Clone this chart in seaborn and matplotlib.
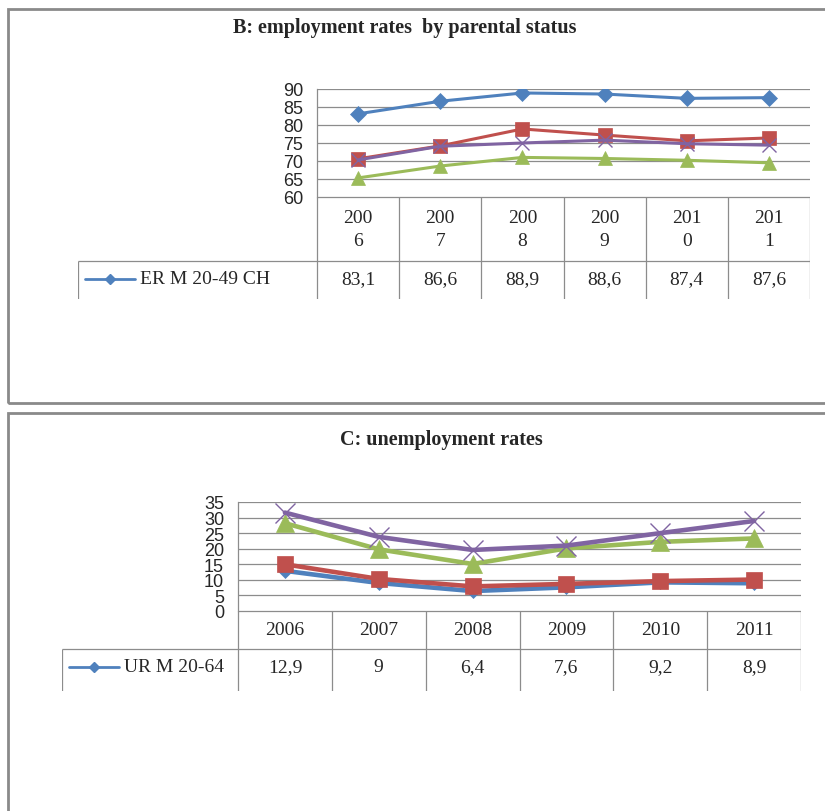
import matplotlib
matplotlib.use("Agg")
import matplotlib.pyplot as plt
import pandas as pd
import seaborn as sns

# ============================
# DATA
# ============================
years = ["2006", "2007", "2008", "2009", "2010", "2011"]

# B: employment rates by parental status (only first table row is visible)
er_names = ["ER M 20-49 CH", "ER 2", "ER 3", "ER 4"]
er_m_ch = [83.1, 86.6, 88.9, 88.6, 87.4, 87.6]
er_s2 = [70.6, 74.2, 78.9, 77.2, 75.6, 76.4]
er_s3 = [65.3, 68.6, 71.0, 70.7, 70.2, 69.5]
er_s4 = [70.3, 74.1, 75.0, 75.8, 74.8, 74.4]
er_ticks = [60, 65, 70, 75, 80, 85, 90]

# C: unemployment rates
ur_names = ["UR M 20-64", "UR 2", "UR 3", "UR 4"]
ur_m = [12.9, 9, 6.4, 7.6, 9.2, 8.9]
ur_s2 = [15.0, 10.3, 7.9, 8.7, 9.6, 10.1]
ur_s3 = [28.2, 19.8, 15.1, 20.1, 22.2, 23.3]
ur_s4 = [31.6, 23.8, 19.6, 21.0, 25.0, 28.9]
ur_ticks = [0, 5, 10, 15, 20, 25, 30, 35]

# ============================
# STYLE
# ============================
W, H = 825, 812
COLORS = ["#4F81BD", "#C0504D", "#9BBB59", "#8064A2"]
MARKERS = ["D", "s", "^", "x"]
GRID = "#8c8c8c"
SERIF = "Liberation Serif"
SANS = "Liberation Sans"

sns.set_style("white")
plt.rcParams["font.family"] = ["Liberation Serif", "DejaVu Serif"]


def box(x0, y0, x1, y1):
    # pixel box (top-left origin) -> figure fraction rect
    return [x0 / W, 1 - y1 / H, (x1 - x0) / W, (y1 - y0) / H]


def long_df(names, series):
    rows = []
    for name, vals in zip(names, series):
        for yr, v in zip(years, vals):
            rows.append({"series": name, "year": yr, "value": v})
    return pd.DataFrame(rows)


def fmt(v):
    return ("%g" % v).replace(".", ",")


def draw_panel(fig, title, title_xy, names, series, ticks, plot_px,
               table_px, header_h, wrap_years, lw, msizes, frame_px):
    x0, y0, x1, y1 = plot_px
    # frame around the chart object
    fx0, fy0, fx1, fy1 = frame_px
    fig.add_artist(plt.Rectangle((fx0 / W, 1 - fy1 / H), (fx1 - fx0) / W,
                                 (fy1 - fy0) / H, transform=fig.transFigure,
                                 fill=False, ec="#8a8a8a", lw=2))
    fig.text(title_xy[0] / W, 1 - title_xy[1] / H, title, ha="center",
             va="center", fontsize=14.5, fontweight="bold", family=SERIF)

    ax = fig.add_axes(box(*plot_px))
    df = long_df(names, series)
    for i, name in enumerate(names):
        sub = df[df["series"] == name]
        mew = 1.0 if MARKERS[i] == "x" else 0.5
        sns.lineplot(data=sub, x="year", y="value", ax=ax, color=COLORS[i],
                     marker=MARKERS[i], markersize=msizes[i], lw=lw,
                     markeredgecolor=COLORS[i], markeredgewidth=mew,
                     sort=False, legend=False, zorder=3 + i)
    ax.set_xlim(-0.5, len(years) - 0.5)
    ax.set_ylim(ticks[0], ticks[-1])
    ax.set_yticks(ticks)
    ax.set_xticks([])
    ax.set_xlabel("")
    ax.set_ylabel("")
    ax.grid(axis="y", color=GRID, lw=0.9)
    for s in ["top", "right", "bottom"]:
        ax.spines[s].set_visible(False)
    ax.spines["left"].set_color(GRID)
    ax.spines["left"].set_linewidth(0.9)
    ax.tick_params(axis="y", length=6, width=0.9, color=GRID, pad=4,
                   labelsize=13)
    for lab in ax.get_yticklabels():
        lab.set_family(SANS)
    ax.patch.set_alpha(0)

    # data table under the plot
    tx0, ty0, tx1, ty1 = table_px
    tab = fig.add_axes(box(*table_px))
    tab.set_xlim(tx0, tx1)
    tab.set_ylim(ty1, ty0)
    tab.axis("off")
    colw = (x1 - x0) / len(years)
    hy = ty0 + header_h
    tab.hlines(ty0, x0, x1, color=GRID, lw=0.9)
    tab.hlines(hy, tx0, x1, color=GRID, lw=0.9)
    for i in range(len(years) + 1):
        tab.vlines(x0 + i * colw, ty0, ty1, color=GRID, lw=0.9)
    tab.vlines(tx0, hy, ty1, color=GRID, lw=0.9)
    ry = hy + 18
    for i, yr in enumerate(years):
        cx = x0 + (i + 0.5) * colw
        label = yr[:3] + "\n" + yr[3:] if wrap_years else yr
        tab.text(cx, ty0 + header_h / 2, label, ha="center", va="center",
                 fontsize=14, linespacing=1.45)
        tab.text(cx, ry, fmt(series[0][i]), ha="center", va="center",
                 fontsize=14)
    # legend key for the first series
    tab.plot([tx0 + 7, tx0 + 57], [ry, ry], color=COLORS[0], lw=2)
    tab.plot([tx0 + 32], [ry], marker=MARKERS[0], color=COLORS[0], ms=5)
    tab.text(tx0 + 62, ry, names[0], ha="left", va="center", fontsize=14)
    return ax


fig = plt.figure(figsize=(W / 100, H / 100), dpi=100)

draw_panel(fig, "B: employment rates  by parental status", (405, 28),
           er_names, [er_m_ch, er_s2, er_s3, er_s4], er_ticks,
           (317, 90, 810, 198), (78, 198, 810, 300), 64, True, 2.2,
           [8, 10, 10, 10], (8, 10, 840, 404))

draw_panel(fig, "C: unemployment rates", (441, 440),
           ur_names, [ur_m, ur_s2, ur_s3, ur_s4], ur_ticks,
           (238, 503, 801, 612), (62, 612, 801, 692), 38, False, 3.3,
           [7, 12, 13, 14], (8, 414, 840, 840))

fig.savefig("out.png", dpi=100)
